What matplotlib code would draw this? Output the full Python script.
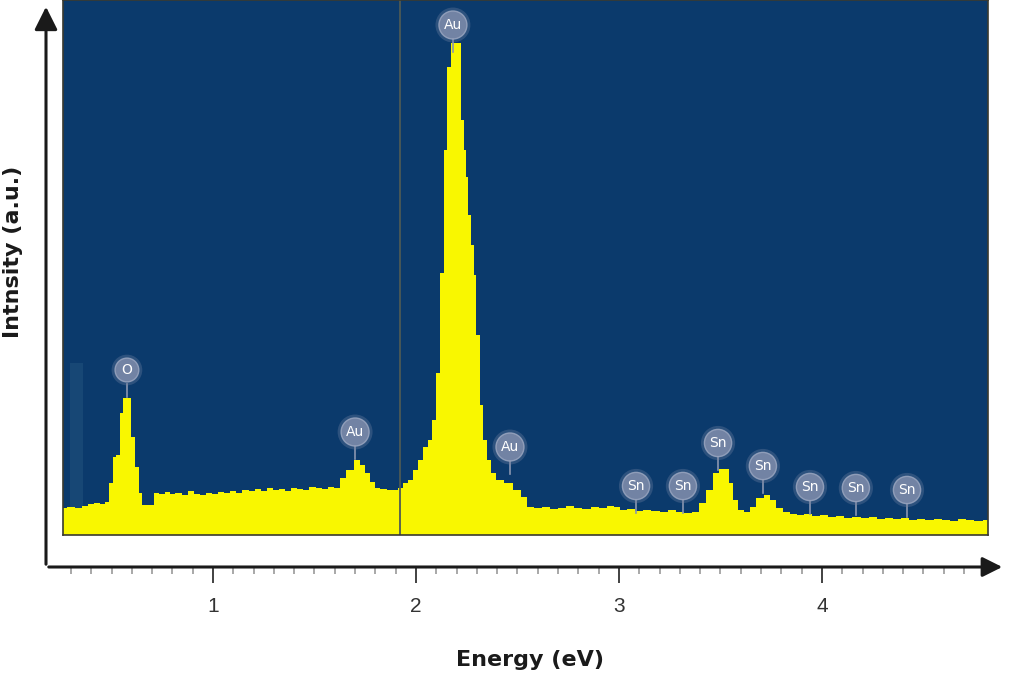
import matplotlib
matplotlib.use("Agg")
import matplotlib.pyplot as plt

# spectrum (energy in eV, intensity in arbitrary units)
energy = [0.26, 0.30, 0.34, 0.37, 0.40, 0.43, 0.46, 0.48, 0.50, 0.515, 0.53, 0.55,
          0.565, 0.59, 0.605, 0.63, 0.645, 0.66, 0.70, 0.72, 0.75, 0.78, 0.80, 0.83,
          0.86, 0.89, 0.92, 0.95, 0.98, 1.01, 1.04, 1.07, 1.10, 1.13, 1.16, 1.19,
          1.22, 1.25, 1.28, 1.31, 1.34, 1.37, 1.40, 1.43, 1.46, 1.49, 1.52, 1.55,
          1.58, 1.61, 1.64, 1.675, 1.71, 1.735, 1.76, 1.785, 1.81, 1.84, 1.87, 1.90,
          1.92, 1.95, 1.97, 2.00, 2.02, 2.05, 2.07, 2.085, 2.11, 2.13, 2.145, 2.165,
          2.18, 2.215, 2.23, 2.24, 2.25, 2.265, 2.28, 2.29, 2.305, 2.325, 2.34, 2.355,
          2.38, 2.41, 2.46, 2.50, 2.53, 2.56, 2.60, 2.64, 2.68, 2.72, 2.76, 2.80,
          2.84, 2.88, 2.92, 2.96, 2.99, 3.02, 3.06, 3.10, 3.14, 3.18, 3.22, 3.26,
          3.30, 3.34, 3.38, 3.41, 3.45, 3.48, 3.51, 3.53, 3.55, 3.57, 3.60, 3.63,
          3.66, 3.695, 3.73, 3.76, 3.79, 3.83, 3.86, 3.89, 3.93, 3.97, 4.01, 4.05,
          4.09, 4.13, 4.17, 4.21, 4.25, 4.29, 4.33, 4.37, 4.41, 4.45, 4.49, 4.53,
          4.57, 4.61, 4.65, 4.69, 4.73, 4.77, 4.82]
intensity = [27, 28, 27, 29, 31, 32, 31, 33, 52, 78, 80, 122,
             137, 137, 98, 68, 42, 30, 30, 42, 41, 43, 41, 42,
             40, 44, 41, 40, 42, 41, 43, 42, 44, 42, 45, 44,
             46, 44, 47, 45, 46, 44, 47, 46, 45, 48, 47, 46,
             48, 47, 57, 65, 75, 70, 62, 53, 47, 46, 45, 45,
             47, 52, 55, 65, 75, 88, 95, 115, 162, 262, 385, 468,
             492, 492, 415, 385, 358, 320, 290, 260, 200, 130, 95, 75,
             62, 55, 52, 45, 38, 28, 27, 28, 26, 27, 29, 27,
             26, 28, 27, 29, 28, 25, 26, 24, 25, 24, 23, 25,
             23, 22, 23, 32, 45, 62, 66, 66, 52, 35, 25, 23,
             28, 37, 40, 35, 27, 23, 21, 20, 21, 19, 20, 18,
             19, 17, 18, 17, 18, 16, 17, 16, 17, 15, 16, 15,
             16, 15, 14, 16, 15, 14, 15]

# faint ghost column at the far left
ghost_energy = [0.295, 0.295, 0.36, 0.36]
ghost_intensity = [30, 172, 172, 30]

# element markers: label, energy, badge height
marker_labels = ["O", "Au", "Au", "Au", "Sn", "Sn", "Sn", "Sn", "Sn", "Sn", "Sn"]
marker_energy = [0.576, 1.70, 2.182, 2.463, 3.084, 3.315, 3.488, 3.709, 3.941, 4.167, 4.419]
marker_height = [165, 103, 510, 88, 49, 49, 92, 69, 48, 47, 45]

ticks_major = [1, 2, 3, 4]
ticks_minor = [round(0.3 + 0.1 * i, 1) for i in range(45)]

W, H = 1024, 680
fig = plt.figure(figsize=(W / 100, H / 100), dpi=100)
fig.patch.set_facecolor("white")

x_lo, x_hi = 0.261, 4.818
ax = fig.add_axes([63 / W, (H - 535) / H, 925 / W, 535 / H])
ax.set_facecolor("#0b3a6c")
ax.set_xlim(x_lo, x_hi)
ax.set_ylim(0, 535)
ax.fill_between(ghost_energy, 0, ghost_intensity, color="#3d7090", alpha=0.25, lw=0)
ax.fill_between(energy, 0, intensity, step="mid", color="#f9f700", lw=0)
ax.axvline(1.921, color="#4d5a55", lw=1.3)

for lab, e, h in zip(marker_labels, marker_energy, marker_height):
    ax.plot([e, e], [h - 27, h - 14], color="#8a96b0", lw=1.2)
    # soft glow behind the badge
    ax.text(e, h, lab, ha="center", va="center", fontsize=10, color="none",
            bbox=dict(boxstyle="circle,pad=0.6", fc="#6f7fa0", ec="none", alpha=0.35))
    ax.text(e, h, lab, ha="center", va="center", fontsize=10, color="white",
            fontfamily="DejaVu Sans",
            bbox=dict(boxstyle="circle,pad=0.35", fc="#7f8cab", ec="#9aa6c0",
                      lw=1, alpha=0.85))

ax.set_xticks([])
ax.set_yticks([])
for s in ax.spines.values():
    s.set_color("#3a3a30")
    s.set_linewidth(1.2)

# scale below the plot
ax2 = fig.add_axes([63 / W, (H - 568) / H, 925 / W, 0.0001])
ax2.set_xlim(x_lo, x_hi)
ax2.set_yticks([])
for s in ax2.spines.values():
    s.set_visible(False)
ax2.set_xticks(ticks_major)
ax2.set_xticklabels([str(t) for t in ticks_major])
ax2.set_xticks(ticks_minor, minor=True)
ax2.tick_params(axis="x", which="major", length=11, width=1.3, color="#333333",
                labelsize=15, labelcolor="#333333", pad=10)
ax2.tick_params(axis="x", which="minor", length=4, width=1.2, color="#9a9a9a")
for t in ax2.get_xticklabels():
    t.set_fontfamily("Liberation Sans")

# arrow axes
fig.patches.append(matplotlib.patches.FancyArrowPatch(
    (46 / W, (H - 567) / H), (1005 / W, (H - 567) / H), transform=fig.transFigure,
    arrowstyle="-|>,head_length=12,head_width=6", mutation_scale=1,
    color="#1a1a1a", lw=2.2))
fig.patches.append(matplotlib.patches.FancyArrowPatch(
    (46 / W, (H - 567) / H), (46 / W, (H - 4) / H), transform=fig.transFigure,
    arrowstyle="-|>,head_length=14,head_width=7", mutation_scale=1,
    color="#1a1a1a", lw=2.2))

fig.text(530 / W, 1 - 660 / H, "Energy (eV)", ha="center", va="center",
         fontsize=16, fontweight="bold", color="#1a1a1a")
fig.text(13 / W, 1 - 252 / H, "Intnsity (a.u.)", ha="center", va="center",
         rotation=90, fontsize=16, fontweight="bold", color="#1a1a1a")

fig.savefig("out.png", dpi=100)
